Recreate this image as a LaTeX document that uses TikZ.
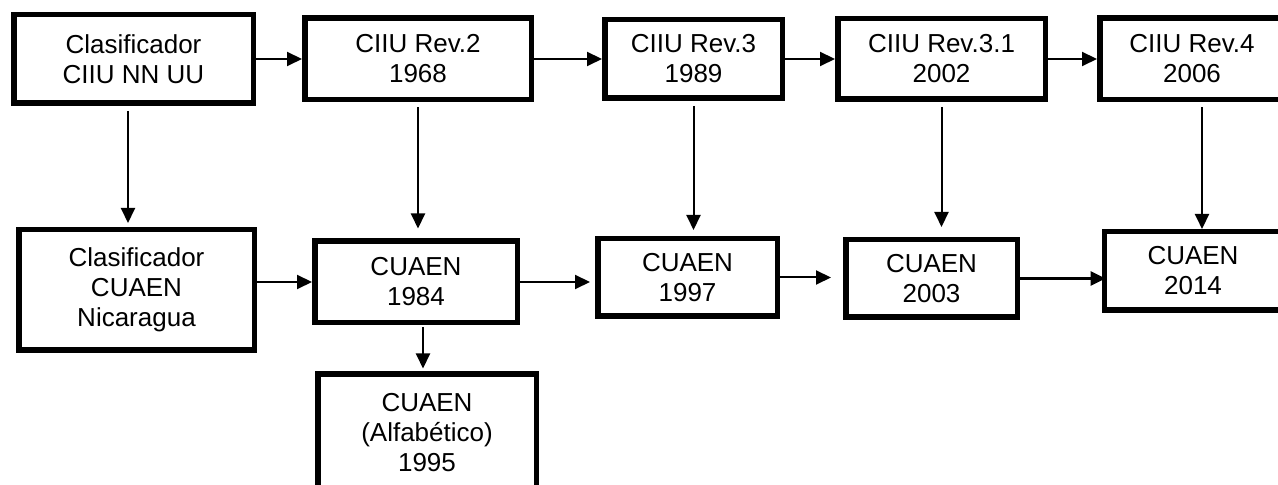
\documentclass[tikz,border=0pt]{standalone}
\usepackage{fontspec}
\setmainfont{Liberation Sans}
\usepackage{tikz}
\usetikzlibrary{arrows.meta}
\tikzstyle{caja} = [rectangle, line width=2.75pt, draw=black, align=center, font=\fontsize{13}{15}\selectfont]
\tikzstyle{arrow} = [line width=1pt,->,>={Triangle[length=7.5pt,width=7pt]}]

\begin{document}
\begin{tikzpicture}[node distance=125pt]

	\useasboundingbox (0,0) rectangle (639pt,-242.5pt);

	% fila superior: CIIU
	\node (nnuu) [caja, minimum width=119.75pt, minimum height=44.25pt] at (66.75pt,-29.5pt) {Clasificador\\ CIIU NN UU};
	\node (rev2) [caja, right of=nnuu, xshift=17.25pt, minimum width=113.25pt, minimum height=40.75pt] {CIIU Rev.2\\ 1968};
	\node (rev3) [caja, right of=rev2, xshift=12.75pt, minimum width=88.75pt, minimum height=39.25pt] {CIIU Rev.3\\ 1989};
	\node (rev31) [caja, right of=rev3, xshift=-1pt, minimum width=103.75pt, minimum height=40.25pt] {CIIU Rev.3.1\\ 2002};
	\node (rev4) [caja, right of=rev31, xshift=0.25pt, minimum width=92.25pt, minimum height=40.75pt] {CIIU Rev.4\\ 2006};

	% fila inferior: CUAEN
	\node (nica) [caja, below of=nnuu, xshift=1.5pt, yshift=9.5pt, minimum width=117.75pt, minimum height=60.25pt] {Clasificador\\ CUAEN\\ Nicaragua};
	\node (c84) [caja, below of=rev2, xshift=-1pt, yshift=13.5pt, minimum width=101.25pt, minimum height=40.75pt] {CUAEN\\ 1984};
	\node (c95) [caja, below of=c84, xshift=5.5pt, yshift=49.75pt, minimum width=109.25pt, minimum height=58.25pt] {CUAEN\\ (Alfabético)\\ 1995};
	\node (c97) [caja, below of=rev3, xshift=-3pt, yshift=15.75pt, minimum width=89.75pt, minimum height=38.75pt] {CUAEN\\ 1997};
	\node (c03) [caja, below of=rev31, xshift=-5pt, yshift=15.25pt, minimum width=85.75pt, minimum height=38.75pt] {CUAEN\\ 2003};
	\node (c14) [caja, below of=rev4, xshift=0.5pt, yshift=19pt, minimum width=88.75pt, minimum height=39.25pt] {CUAEN\\ 2014};

\draw [arrow] (nnuu) -- (rev2);
\draw [arrow] (rev2) -- (rev3);
\draw [arrow] (rev3) -- (rev31);
\draw [arrow] (rev31) -- (rev4);

\draw [arrow, shorten <=2.5pt, shorten >=2pt] ([xshift=-2.75pt]nnuu.south) -- ([xshift=-2.75pt]nnuu.south |- nica.north);
\draw [arrow, shorten <=2.5pt, shorten >=5pt] (rev2.south) -- (rev2.south |- c84.north);
\draw [arrow, shorten <=2.5pt, shorten >=3pt] (rev3.south) -- (rev3.south |- c97.north);
\draw [arrow, shorten <=2.5pt, shorten >=5pt] (rev31.south) -- (rev31.south |- c03.north);
\draw [arrow, shorten <=2.5pt] ([xshift=5pt]rev4.south) -- ([xshift=5pt]rev4.south |- c14.north);
\draw [arrow, shorten <=1pt, shorten >=1.5pt] ([xshift=3.5pt]c84.south) -- ([xshift=3.5pt]c84.south |- c95.north);

\draw [arrow] (c84 -| nica.east) -- (c84.west);
\draw [arrow, shorten >=2.5pt] (c84.east) -- (c84.east -| c97.west);
\draw [arrow, shorten >=6pt] (c97.east) -- (c97.east -| c03.west);
\draw [arrow, line width=1.5pt, shorten >=-2pt] (c03.east) -- (c03.east -| c14.west);

\end{tikzpicture}
\end{document}
